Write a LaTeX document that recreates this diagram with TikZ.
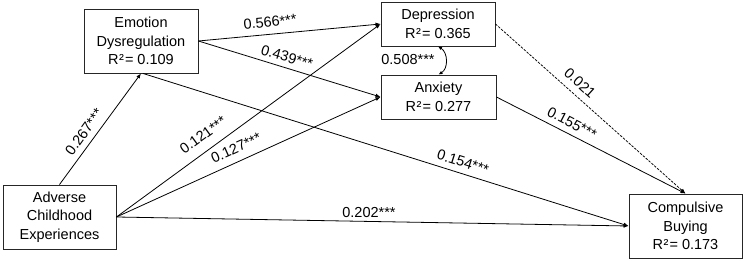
\documentclass[tikz,border=0pt]{standalone}
\usepackage{fontspec}
\setmainfont{Liberation Sans}
\usetikzlibrary{arrows.meta}
\begin{document}
\begin{tikzpicture}[x=1pt,y=-1pt,
  box/.style={draw=black!85,line width=0.9pt,rectangle,align=center,inner sep=0pt,
    font=\fontsize{14.5}{18.5}\selectfont},
  lab/.style={font=\fontsize{14.5}{17}\selectfont,inner sep=0pt},
  conn/.style={line width=0.8pt,-{Latex[length=5pt,width=4pt]}},
  dconn/.style={conn,dash pattern=on 2.5pt off 1.3pt,line width=0.75pt}]
\useasboundingbox (0,0) rectangle (745,261);
\node[box,minimum width=114pt,minimum height=64pt] (emo) at (141,41) {Emotion\\Dysregulation\\R\kern0.5pt²\kern1pt= 0.109};
\node[box,minimum width=114pt,minimum height=44pt] (dep) at (438,24) {Depression\\R\kern0.5pt²\kern1pt= 0.365};
\node[box,minimum width=115pt,minimum height=44pt] (anx) at (438.5,97) {Anxiety\\R\kern0.5pt²\kern1pt= 0.277};
\node[box,minimum width=113pt,minimum height=64pt] (adv) at (59.5,217) {Adverse\\Childhood\\Experiences};
\node[box,minimum width=113pt,minimum height=64pt] (cb) at (685.5,226) {Compulsive\\Buying\\R\kern0.5pt²\kern1pt= 0.173};

\draw[conn] (adv.north) -- (emo.south);
\draw[conn] (adv.east) -- (dep.west);
\draw[conn] (adv.east) -- (anx.west);
\draw[conn] (adv.east) -- (cb.west);
\draw[conn] (emo.east) -- (dep.west);
\draw[conn] (emo.east) -- (anx.west);
\draw[conn] ([xshift=2pt]emo.south) -- (cb.west);
\draw[conn] (anx.east) -- (cb.north);
\draw[dconn] (dep.east) -- (cb.north);
\draw[line width=0.8pt,{Latex[length=4pt,width=3.5pt]}-{Latex[length=4pt,width=3.5pt]}] (dep.south) .. controls +(10,6) and +(10,-6) .. (anx.north);

\node[lab,rotate=5.6] (l1) at (270,22) {0.566***};
\node[lab,rotate=-16.7] (l2) at (287,57) {0.439***};
\node[lab,rotate=54.2] (l3) at (84,132) {0.267***};
\node[lab,rotate=36] (l4) at (203,135) {0.121***};
\node[lab,rotate=24.4] (l5) at (236,148) {0.127***};
\node[lab,rotate=-17.6] (l6) at (463,162) {0.154***};
\node[lab] (l7) at (369,213) {0.202***};
\node[lab,rotate=-42] (l8) at (580,83) {0.021};
\node[lab,rotate=-27.2] (l9) at (572,123) {0.155***};
\node[lab] (l10) at (408,60) {0.508***};
\end{tikzpicture}
\end{document}
